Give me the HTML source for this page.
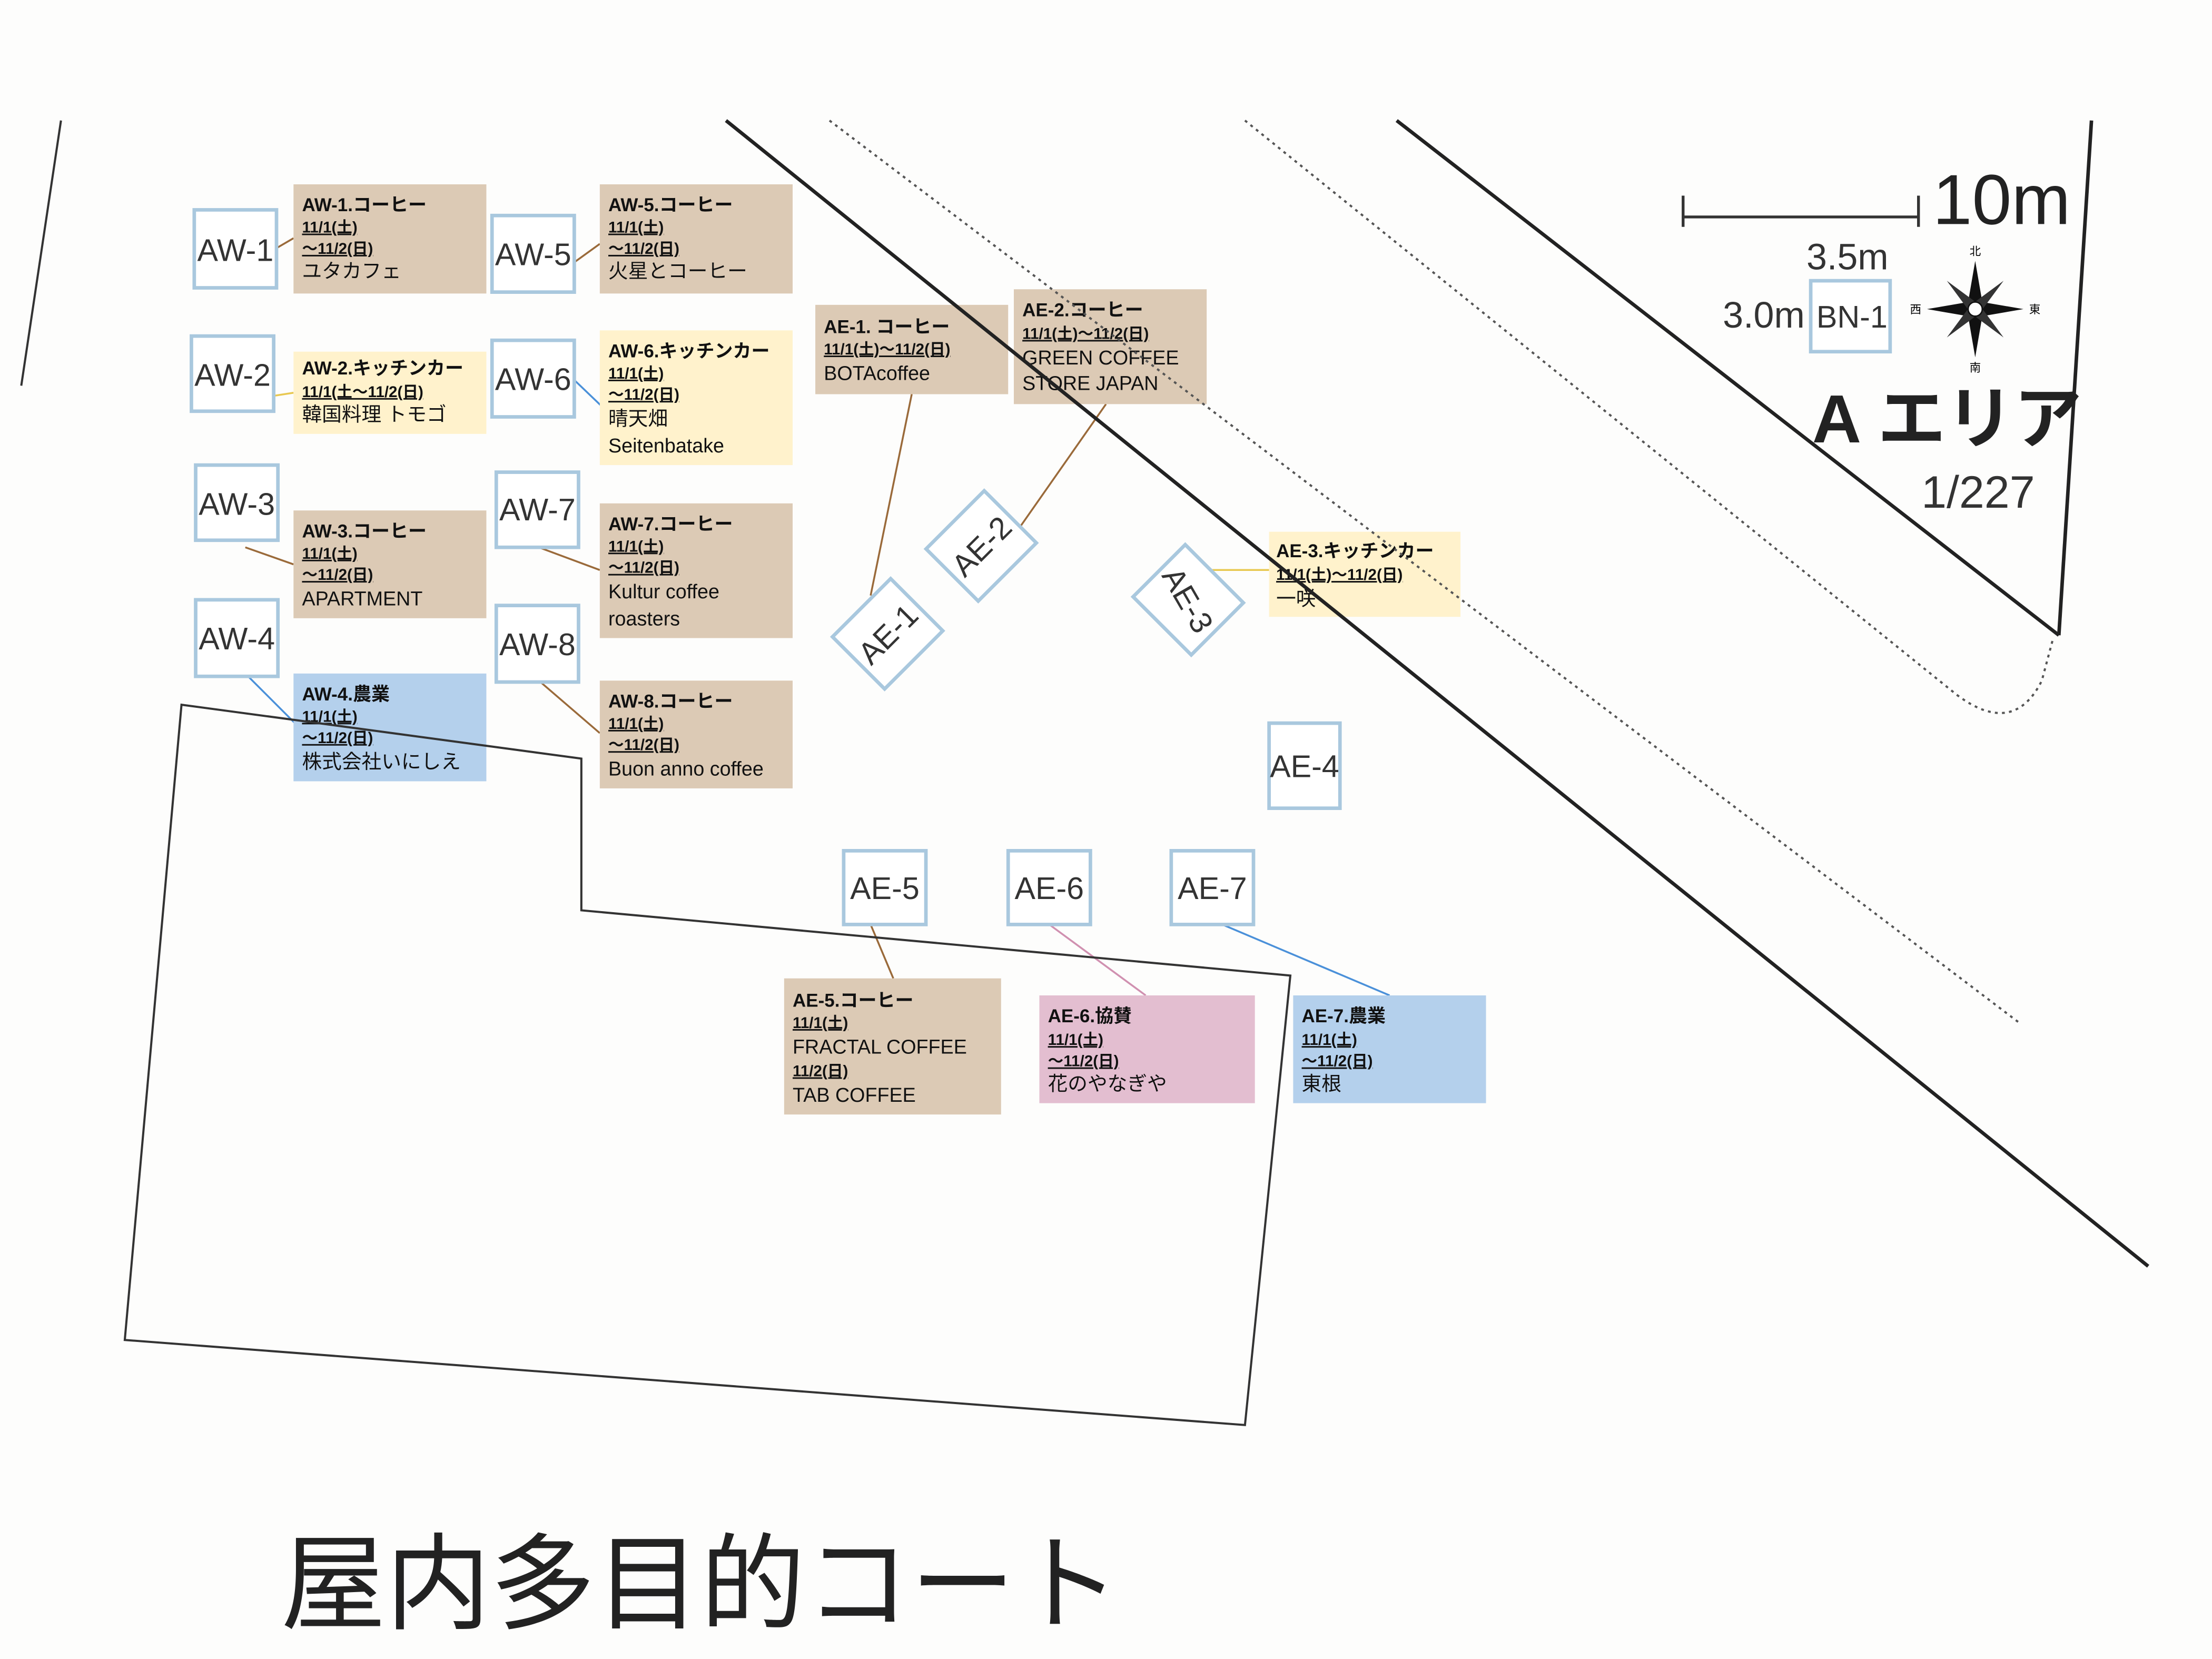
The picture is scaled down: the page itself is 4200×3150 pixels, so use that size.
<!DOCTYPE html>
<html><head><meta charset="utf-8"><style>
html,body{margin:0;padding:0;background:#fdfdfc;}
svg{display:block;}
text{font-family:"Liberation Sans","Noto Sans CJK JP",sans-serif;}
.t{font-weight:bold;font-size:13px;fill:#111;}
.d{font-weight:bold;font-size:11px;fill:#111;text-decoration:underline;}
.n{font-size:14px;fill:#111;}
.st{fill:#fff;stroke:#a9c8de;stroke-width:2.5;}
.sl{font-size:22px;fill:#333;}
</style></head><body>
<svg width="4200" height="3150" viewBox="0 0 1560 1170" xmlns="http://www.w3.org/2000/svg">
<rect width="1560" height="1170" fill="#fdfdfc"/>
<!-- scale -->
<line x1="1187" y1="153" x2="1353" y2="153" stroke="#333" stroke-width="2"/>
<line x1="1187" y1="138" x2="1187" y2="160" stroke="#333" stroke-width="2"/>
<line x1="1353" y1="138" x2="1353" y2="160" stroke="#333" stroke-width="2"/>
<text x="1363" y="158" font-size="50" fill="#222">10m</text>
<text x="1274" y="190" font-size="26" fill="#333">3.5m</text>
<text x="1215" y="231" font-size="26" fill="#333">3.0m</text>
<rect x="1277" y="198" width="56" height="50" class="st"/>
<text x="1281" y="231" font-size="22" fill="#333">BN-1</text>
<g transform="translate(1393,218)">
<polygon points="0,-34 5,-5 34,0 5,5 0,34 -5,5 -34,0 -5,-5" fill="#111"/>
<polygon points="20,-20 3,3 -20,20 -3,-3" fill="#333"/>
<polygon points="-20,-20 3,-3 20,20 -3,3" fill="#333"/>
<circle r="5" fill="#fff" stroke="#111"/>
<text x="0" y="-38" font-size="8" text-anchor="middle">北</text>
<text x="-42" y="3" font-size="8" text-anchor="middle">西</text>
<text x="42" y="3" font-size="8" text-anchor="middle">東</text>
<text x="0" y="44" font-size="8" text-anchor="middle">南</text>
</g>
<text x="1278" y="312" font-size="48" font-weight="bold" fill="#222">A エリア</text>
<text x="1355" y="358" font-size="32" fill="#333">1/227</text>
<!-- connectors -->
<g stroke-width="1.3" fill="none">
<line x1="195" y1="175" x2="207" y2="168" stroke="#9a6a3a"/>
<line x1="155" y1="285" x2="207" y2="277" stroke="#e8c850"/>
<line x1="173" y1="386" x2="207" y2="398" stroke="#9a6a3a"/>
<line x1="173" y1="475" x2="210" y2="512" stroke="#4a90d9"/>
<line x1="405" y1="185" x2="423" y2="172" stroke="#9a6a3a"/>
<line x1="405" y1="268" x2="428" y2="290" stroke="#4a90d9"/>
<line x1="380" y1="386" x2="423" y2="402" stroke="#9a6a3a"/>
<line x1="380" y1="480" x2="423" y2="517" stroke="#9a6a3a"/>
<line x1="643" y1="278" x2="614" y2="420" stroke="#9a6a3a"/>
<line x1="780" y1="285" x2="717" y2="375" stroke="#9a6a3a"/>
<line x1="855" y1="402" x2="895" y2="402" stroke="#e8c850"/>
<line x1="614" y1="652" x2="630" y2="690" stroke="#9a6a3a"/>
<line x1="740" y1="652" x2="808" y2="702" stroke="#d090b0"/>
<line x1="862" y1="652" x2="980" y2="702" stroke="#4a90d9"/>
</g>
<!-- stalls -->
<g>
<rect x="137" y="148" width="58" height="55" class="st"/><text x="166" y="184" class="sl" text-anchor="middle">AW-1</text>
<rect x="135" y="237" width="58" height="53" class="st"/><text x="164" y="272" class="sl" text-anchor="middle">AW-2</text>
<rect x="138" y="328" width="58" height="53" class="st"/><text x="167" y="363" class="sl" text-anchor="middle">AW-3</text>
<rect x="138" y="423" width="58" height="54" class="st"/><text x="167" y="458" class="sl" text-anchor="middle">AW-4</text>
<rect x="347" y="152" width="58" height="54" class="st"/><text x="376" y="187" class="sl" text-anchor="middle">AW-5</text>
<rect x="347" y="240" width="58" height="54" class="st"/><text x="376" y="275" class="sl" text-anchor="middle">AW-6</text>
<rect x="350" y="333" width="58" height="53" class="st"/><text x="379" y="367" class="sl" text-anchor="middle">AW-7</text>
<rect x="350" y="427" width="58" height="54" class="st"/><text x="379" y="462" class="sl" text-anchor="middle">AW-8</text>
<rect x="895" y="510" width="50" height="60" class="st"/><text x="920" y="548" class="sl" text-anchor="middle">AE-4</text>
<rect x="595" y="600" width="58" height="52" class="st"/><text x="624" y="634" class="sl" text-anchor="middle">AE-5</text>
<rect x="711" y="600" width="58" height="52" class="st"/><text x="740" y="634" class="sl" text-anchor="middle">AE-6</text>
<rect x="826" y="600" width="58" height="52" class="st"/><text x="855" y="634" class="sl" text-anchor="middle">AE-7</text>
<g transform="translate(626,447) rotate(-45)"><rect x="-29" y="-26" width="58" height="52" class="st"/><text x="0" y="8" class="sl" text-anchor="middle">AE-1</text></g>
<g transform="translate(692,385) rotate(-45)"><rect x="-29" y="-26" width="58" height="52" class="st"/><text x="0" y="8" class="sl" text-anchor="middle">AE-2</text></g>
<g transform="translate(838,423) rotate(45)"><rect x="-29" y="-26" width="58" height="52" class="st"/><text x="0" y="8" class="sl" text-anchor="middle" transform="rotate(15)">AE-3</text></g>
</g>
<!-- labels -->
<g>
<rect x="207" y="130" width="136" height="77" fill="#dccab5"/>
<text x="213" y="149" class="t">AW-1.コーヒー</text><text x="213" y="164" class="d">11/1(土)</text><text x="213" y="179" class="d">～11/2(日)</text><text x="213" y="196" class="n">ユタカフェ</text>
<rect x="423" y="130" width="136" height="77" fill="#dccab5"/>
<text x="429" y="149" class="t">AW-5.コーヒー</text><text x="429" y="164" class="d">11/1(土)</text><text x="429" y="179" class="d">～11/2(日)</text><text x="429" y="196" class="n">火星とコーヒー</text>
<rect x="207" y="248" width="136" height="58" fill="#fff2cc"/>
<text x="213" y="264" class="t">AW-2.キッチンカー</text><text x="213" y="280" class="d">11/1(土～11/2(日)</text><text x="213" y="297" class="n">韓国料理 トモゴ</text>
<rect x="423" y="233" width="136" height="95" fill="#fff2cc"/>
<text x="429" y="252" class="t">AW-6.キッチンカー</text><text x="429" y="267" class="d">11/1(土)</text><text x="429" y="282" class="d">～11/2(日)</text><text x="429" y="300" class="n">晴天畑</text><text x="429" y="319" class="n">Seitenbatake</text>
<rect x="207" y="360" width="136" height="76" fill="#dccab5"/>
<text x="213" y="379" class="t">AW-3.コーヒー</text><text x="213" y="394" class="d">11/1(土)</text><text x="213" y="409" class="d">～11/2(日)</text><text x="213" y="427" class="n">APARTMENT</text>
<rect x="423" y="355" width="136" height="95" fill="#dccab5"/>
<text x="429" y="374" class="t">AW-7.コーヒー</text><text x="429" y="389" class="d">11/1(土)</text><text x="429" y="404" class="d">～11/2(日)</text><text x="429" y="422" class="n">Kultur coffee</text><text x="429" y="441" class="n">roasters</text>
<rect x="207" y="475" width="136" height="76" fill="#b4d0ec"/>
<text x="213" y="494" class="t">AW-4.農業</text><text x="213" y="509" class="d">11/1(土)</text><text x="213" y="524" class="d">～11/2(日)</text><text x="213" y="542" class="n">株式会社いにしえ</text>
<rect x="423" y="480" width="136" height="76" fill="#dccab5"/>
<text x="429" y="499" class="t">AW-8.コーヒー</text><text x="429" y="514" class="d">11/1(土)</text><text x="429" y="529" class="d">～11/2(日)</text><text x="429" y="547" class="n">Buon anno coffee</text>
<rect x="575" y="215" width="136" height="63" fill="#dccab5"/>
<text x="581" y="235" class="t">AE-1. コーヒー</text><text x="581" y="250" class="d">11/1(土)～11/2(日)</text><text x="581" y="268" class="n">BOTAcoffee</text>
<rect x="715" y="204" width="136" height="81" fill="#dccab5"/>
<text x="721" y="223" class="t">AE-2.コーヒー</text><text x="721" y="239" class="d">11/1(土)～11/2(日)</text><text x="721" y="257" class="n">GREEN COFFEE</text><text x="721" y="275" class="n">STORE JAPAN</text>
<rect x="895" y="375" width="135" height="60" fill="#fff2cc"/>
<text x="900" y="393" class="t">AE-3.キッチンカー</text><text x="900" y="409" class="d">11/1(土)～11/2(日)</text><text x="900" y="427" class="n">一咲</text>
<rect x="553" y="690" width="153" height="96" fill="#dccab5"/>
<text x="559" y="710" class="t">AE-5.コーヒー</text><text x="559" y="725" class="d">11/1(土)</text><text x="559" y="743" class="n">FRACTAL COFFEE</text><text x="559" y="759" class="d">11/2(日)</text><text x="559" y="777" class="n">TAB COFFEE</text>
<rect x="733" y="702" width="152" height="76" fill="#e3bed0"/>
<text x="739" y="721" class="t">AE-6.協賛</text><text x="739" y="737" class="d">11/1(土)</text><text x="739" y="752" class="d">～11/2(日)</text><text x="739" y="769" class="n">花のやなぎや</text>
<rect x="912" y="702" width="136" height="76" fill="#b4d0ec"/>
<text x="918" y="721" class="t">AE-7.農業</text><text x="918" y="737" class="d">11/1(土)</text><text x="918" y="752" class="d">～11/2(日)</text><text x="918" y="769" class="n">東根</text>
</g>
<!-- map lines on top -->
<line x1="43" y1="85" x2="15" y2="272" stroke="#333" stroke-width="1.5"/>
<line x1="512" y1="85" x2="1515" y2="893" stroke="#222" stroke-width="2.5"/>
<line x1="585" y1="85" x2="1425" y2="722" stroke="#555" stroke-width="1.5" stroke-dasharray="2,3"/>
<path d="M878,85 L1380,490 Q1420,520 1440,480 L1448,450" fill="none" stroke="#555" stroke-width="1.5" stroke-dasharray="2,3"/>
<line x1="985" y1="85" x2="1452" y2="448" stroke="#222" stroke-width="2.5"/>
<line x1="1475" y1="85" x2="1452" y2="448" stroke="#222" stroke-width="2.5"/>
<polygon points="128,497 410,535 410,642 910,688 878,1005 88,945" fill="none" stroke="#333" stroke-width="1.5"/>
<text x="198" y="1143" font-size="74" fill="#222">屋内多目的コート</text>
</svg>
</body></html>
